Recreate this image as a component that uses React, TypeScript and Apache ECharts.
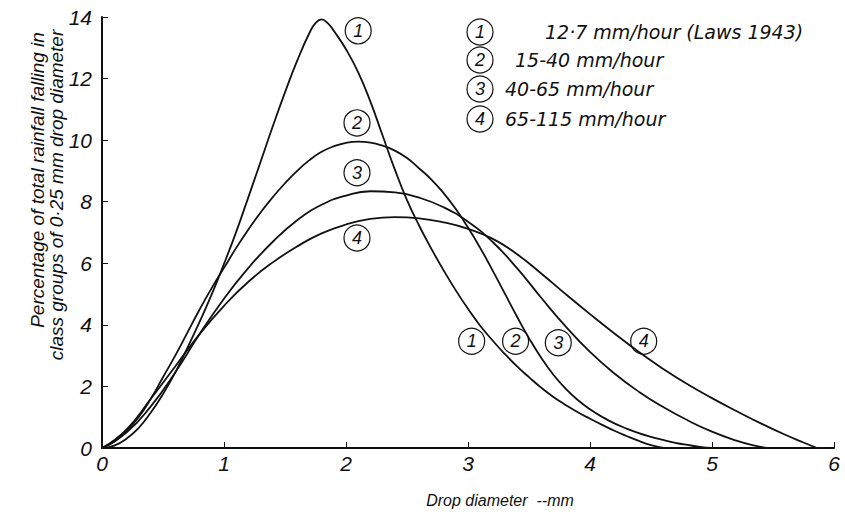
import React, { useEffect, useRef } from "react";
import * as echarts from "echarts";

// Drop diameter (mm) and percentage values
const d1 = [0, 0.1, 0.2, 0.3, 0.4, 0.5, 0.6, 0.7, 0.8, 0.9, 1.0, 1.1, 1.2, 1.3, 1.4, 1.5, 1.6, 1.7, 1.75, 1.8, 1.85, 1.9, 2.0, 2.1, 2.2, 2.3, 2.4, 2.5, 2.6, 2.7, 2.8, 2.9, 3.0, 3.1, 3.2, 3.3, 3.4, 3.5, 3.6, 3.7, 3.8, 3.9, 4.0, 4.1, 4.2, 4.3, 4.4, 4.5, 4.6];
const v1 = [0, 0.08, 0.3, 0.65, 1.15, 1.75, 2.45, 3.25, 4.1, 5.0, 5.98, 7.02, 8.15, 9.3, 10.45, 11.55, 12.58, 13.48, 13.8, 13.92, 13.8, 13.55, 12.95, 12.2, 11.25, 10.15, 9.05, 8.05, 7.22, 6.47, 5.77, 5.12, 4.52, 3.97, 3.5, 3.06, 2.66, 2.3, 1.96, 1.66, 1.4, 1.16, 0.95, 0.75, 0.56, 0.39, 0.23, 0.09, 0];

const d2 = [0, 0.1, 0.2, 0.3, 0.4, 0.5, 0.6, 0.7, 0.8, 0.9, 1.0, 1.1, 1.2, 1.3, 1.4, 1.5, 1.6, 1.7, 1.8, 1.9, 2.0, 2.1, 2.2, 2.3, 2.4, 2.5, 2.6, 2.7, 2.8, 2.9, 3.0, 3.1, 3.2, 3.3, 3.4, 3.5, 3.6, 3.7, 3.8, 3.9, 4.0, 4.1, 4.2, 4.3, 4.4, 4.5, 4.6, 4.7, 4.8, 4.9, 5.0];
const v2 = [0, 0.2, 0.55, 1.0, 1.6, 2.3, 3.0, 3.75, 4.5, 5.2, 5.85, 6.5, 7.1, 7.65, 8.15, 8.6, 9.0, 9.35, 9.62, 9.8, 9.91, 9.95, 9.92, 9.82, 9.66, 9.42, 9.08, 8.72, 8.28, 7.76, 7.16, 6.5, 5.78, 5.03, 4.28, 3.57, 2.93, 2.38, 1.93, 1.56, 1.26, 1.01, 0.8, 0.63, 0.48, 0.36, 0.26, 0.17, 0.1, 0.04, 0];

const d3 = [0, 0.2, 0.4, 0.6, 0.8, 1.0, 1.2, 1.4, 1.6, 1.8, 2.0, 2.2, 2.4, 2.6, 2.8, 3.0, 3.2, 3.4, 3.6, 3.8, 4.0, 4.2, 4.4, 4.6, 4.8, 5.0, 5.2, 5.35, 5.45];
const v3 = [0, 0.5, 1.35, 2.45, 3.7, 4.85, 5.85, 6.7, 7.4, 7.9, 8.2, 8.34, 8.3, 8.13, 7.82, 7.35, 6.7, 5.85, 4.88, 3.95, 3.12, 2.42, 1.83, 1.33, 0.9, 0.53, 0.24, 0.08, 0];

const d4 = [0, 0.2, 0.4, 0.6, 0.8, 1.0, 1.2, 1.4, 1.6, 1.8, 2.0, 2.2, 2.4, 2.6, 2.8, 3.0, 3.2, 3.4, 3.6, 3.8, 4.0, 4.2, 4.4, 4.6, 4.8, 5.0, 5.2, 5.4, 5.6, 5.75, 5.86];
const v4 = [0, 0.6, 1.6, 2.65, 3.7, 4.62, 5.4, 6.03, 6.55, 6.97, 7.26, 7.44, 7.5, 7.46, 7.33, 7.12, 6.8, 6.3, 5.67, 5.0, 4.35, 3.72, 3.12, 2.57, 2.07, 1.62, 1.2, 0.8, 0.43, 0.18, 0];

const seriesNumbers = ["1", "2", "3", "4"];
const legendTexts = ["12·7 mm/hour (Laws 1943)", "15-40 mm/hour", "40-65 mm/hour", "65-115 mm/hour"];
// circled-number annotation positions in data units [diameter, percentage]
const topLabels = [[2.1, 13.55], [2.09, 10.56], [2.09, 8.94], [2.09, 6.82]];
const bottomLabels = [[3.03, 3.47], [3.39, 3.47], [3.74, 3.42], [4.44, 3.47]];

const xTicks = [0, 1, 2, 3, 4, 5, 6];
const yTicks = [0, 2, 4, 6, 8, 10, 12, 14];
const xTitle = "Drop diameter  --mm";
const yTitle1 = "Percentage of total rainfall falling in";
const yTitle2 = "class groups of 0·25 mm drop diameter";

const FONT = "Liberation Sans, Arial, sans-serif";
const WIDE = "DejaVu Sans, sans-serif";
const INK = "#111";

export default function App() {
  const ref = useRef<HTMLDivElement>(null);
  useEffect(() => {
    if (!ref.current) return;
    const chart = echarts.init(ref.current, null, { renderer: "svg" });
    const xs = [d1, d2, d3, d4];
    const vs = [v1, v2, v3, v4];
    const series = xs.map((dx, i) => ({
      type: "line",
      name: legendTexts[i],
      data: dx.map((x, j) => [x, vs[i][j]]),
      smooth: 0.5,
      symbol: "none",
      lineStyle: { color: INK, width: 1.8 },
      z: 3,
      markPoint: {
        symbol: "circle",
        symbolSize: 26,
        itemStyle: { color: "rgba(255,255,255,0)", borderColor: INK, borderWidth: 1.2 },
        label: {
          show: true,
          position: "inside",
          formatter: seriesNumbers[i],
          color: INK,
          fontStyle: "italic",
          fontSize: 18,
          fontFamily: FONT,
        },
        data: [
          { coord: topLabels[i], value: seriesNumbers[i] },
          { coord: bottomLabels[i], value: seriesNumbers[i] },
        ],
      },
    }));

    const legendRowsY = [32, 60, 89, 119];
    const legendTextX = [545, 515, 505, 505];
    const graphics: any[] = [];
    legendTexts.forEach((t, i) => {
      graphics.push({
        type: "circle",
        shape: { cx: 480, cy: legendRowsY[i], r: 13 },
        style: { fill: "none", stroke: INK, lineWidth: 1.2 },
      });
      graphics.push({
        type: "text",
        x: 480,
        y: legendRowsY[i],
        style: {
          text: seriesNumbers[i],
          fontSize: 18,
          fontStyle: "italic",
          fontFamily: FONT,
          fill: INK,
          align: "center",
          verticalAlign: "middle",
        },
      });
      graphics.push({
        type: "text",
        x: legendTextX[i],
        y: legendRowsY[i],
        style: {
          text: t,
          fontSize: 19,
          fontStyle: "italic",
          fontFamily: WIDE,
          fill: INK,
          align: "left",
          verticalAlign: "middle",
        },
      });
    });
    graphics.push({
      type: "text",
      x: 500,
      y: 500,
      style: { text: xTitle, fontSize: 16, fontStyle: "italic", fontFamily: FONT, fill: INK, align: "center", verticalAlign: "middle" },
    });
    graphics.push({
      type: "text",
      x: 37,
      y: 180,
      rotation: Math.PI / 2,
      style: { text: yTitle1, fontSize: 19, fontStyle: "italic", fontFamily: FONT, fill: INK, align: "center", verticalAlign: "middle" },
    });
    graphics.push({
      type: "text",
      x: 56,
      y: 195,
      rotation: Math.PI / 2,
      style: { text: yTitle2, fontSize: 19, fontStyle: "italic", fontFamily: FONT, fill: INK, align: "center", verticalAlign: "middle" },
    });

    chart.setOption({
      animation: false,
      backgroundColor: "#fff",
      grid: { left: 102, right: 11, top: 17, bottom: 67, containLabel: false },
      xAxis: {
        type: "value",
        min: xTicks[0],
        max: xTicks[xTicks.length - 1],
        interval: 1,
        axisLine: { show: true, lineStyle: { color: INK, width: 2 } },
        axisTick: { show: true, inside: true, length: 6, lineStyle: { color: INK, width: 1 } },
        axisLabel: { color: INK, fontSize: 21, fontStyle: "italic", fontFamily: FONT, margin: 5 },
        splitLine: { show: false },
      },
      yAxis: {
        type: "value",
        min: yTicks[0],
        max: yTicks[yTicks.length - 1],
        interval: 2,
        axisLine: { show: true, lineStyle: { color: INK, width: 2 } },
        axisTick: { show: true, inside: true, length: 6, lineStyle: { color: INK, width: 1 } },
        axisLabel: { color: INK, fontSize: 21, fontStyle: "italic", fontFamily: FONT, margin: 10 },
        splitLine: { show: false },
      },
      graphic: graphics,
      series,
    });
    return () => chart.dispose();
  }, []);
  return <div ref={ref} style={{ width: 845, height: 515, position: "absolute", left: 0, top: 0 }} />;
}
